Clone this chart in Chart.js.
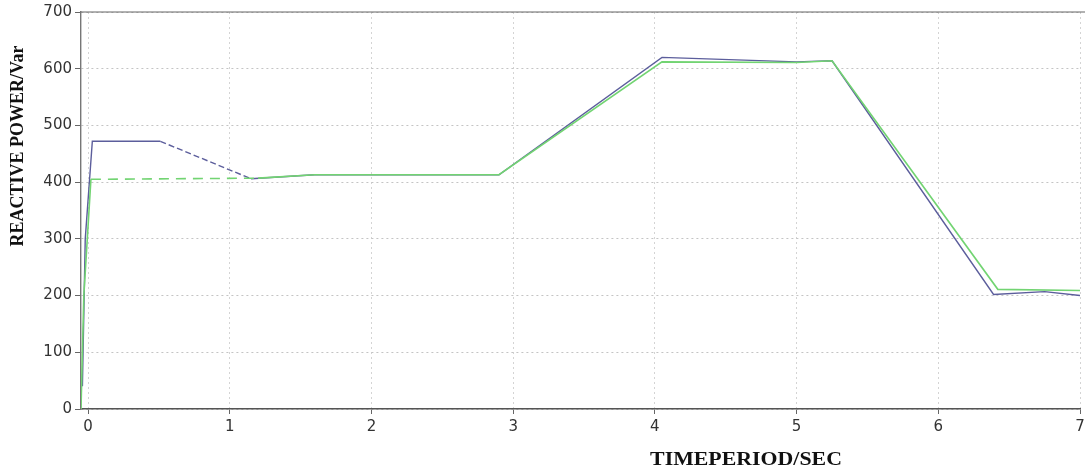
<!DOCTYPE html>
<html>
<head>
<meta charset="utf-8">
<script src="https://cdn.jsdelivr.net/npm/chart.js@4.4.1/dist/chart.umd.min.js"></script>
<style>
  html, body { margin: 0; padding: 0; background: #fff; overflow: hidden; }
  #wrap { width: 1100px; height: 470px; }
</style>
</head>
<body>
<div id="wrap"><canvas id="qChart" width="1100" height="470"></canvas></div>
<script>
  // values
  const blueTime = [-0.04, -0.02, 0.03, 0.51, 1.15, 1.6, 2.9, 4.05, 5.0, 5.25, 6.39, 6.75, 7.0];
  const blueVar  = [40, 300, 472, 472, 406, 413, 413, 620, 612, 614, 202, 207, 200];
  const greenTime = [-0.05, -0.03, 0.02, 1.2, 1.6, 2.9, 4.05, 5.0, 5.25, 6.42, 7.0];
  const greenVar  = [0, 200, 405, 407, 413, 413, 612, 611, 614, 211, 209];
  const yTicks = [0, 100, 200, 300, 400, 500, 600, 700];
  const xTicks = [0, 1, 2, 3, 4, 5, 6, 7];

  const toPoints = (xs, ys) => xs.map((x, i) => ({ x, y: ys[i] }));

  const frame = {
    id: "frame",
    afterDraw(chart) {
      const { ctx, chartArea } = chart;
      ctx.save();
      ctx.strokeStyle = "#666666";
      ctx.lineWidth = 1.2;
      ctx.beginPath();
      ctx.moveTo(chartArea.left, chartArea.top);
      ctx.lineTo(chartArea.right + 10, chartArea.top);
      ctx.stroke();
      ctx.fillStyle = "#111111";
      ctx.textAlign = "center";
      ctx.textBaseline = "middle";
      ctx.font = "bold 19px 'Liberation Serif', 'Times New Roman', serif";
      // x axis title, sits right of centre in the reference and looks stretched
      ctx.save();
      ctx.translate(746, 460);
      ctx.scale(1.15, 1);
      ctx.fillText("TIMEPERIOD/SEC", 0, 0);
      ctx.restore();
      // y axis title, sits above centre
      ctx.save();
      ctx.translate(18, 146);
      ctx.rotate(-Math.PI / 2);
      ctx.font = "bold 18px 'Liberation Serif', 'Times New Roman', serif";
      ctx.fillText("REACTIVE POWER/Var", 0, 0);
      ctx.restore();
      ctx.restore();
    },
  };

  const ctx = document.getElementById("qChart").getContext("2d");
  new Chart(ctx, {
    type: "scatter",
    data: {
      datasets: [
        {
          label: "Q ref",
          data: toPoints(greenTime, greenVar),
          showLine: true,
          borderColor: "#72d472",
          borderWidth: 1.6,
          pointRadius: 0,
          segment: {
            borderDash: (c) => (c.p1.parsed.x <= 1.2 && c.p0.parsed.x > 0 ? [10, 7] : undefined),
          },
        },
        {
          label: "Q",
          data: toPoints(blueTime, blueVar),
          showLine: true,
          borderColor: "#5c5e9c",
          borderWidth: 1.4,
          pointRadius: 0,
          segment: {
            borderDash: (c) => (c.p0.parsed.x >= 0.5 && c.p1.parsed.x <= 1.2 ? [6, 3] : undefined),
          },
        },
      ],
    },
    options: {
      responsive: false,
      animation: false,
      layout: { padding: { top: 10, right: 20, left: 0, bottom: 0 } },
      plugins: {
        legend: { display: false },
        tooltip: { enabled: false },
      },
      scales: {
        x: {
          type: "linear",
          min: -0.05,
          max: 7,
          afterFit: (s) => { s.height = 61; },
          afterBuildTicks: (s) => { s.ticks = xTicks.map((v) => ({ value: v })); },
          ticks: {
            color: "#333333",
            font: { size: 15, family: "'DejaVu Sans', sans-serif" },
            padding: 4,
            maxRotation: 0,
          },
          grid: { color: "#d4d4d4", lineWidth: 1, tickLength: 5, tickColor: "#666666" },
          border: { color: "#555555", width: 1.6, dash: [2, 3] },
        },
        y: {
          min: 0,
          max: 700,
          afterFit: (s) => { s.width = 81; },
          afterBuildTicks: (s) => { s.ticks = yTicks.map((v) => ({ value: v })); },
          ticks: {
            color: "#333333",
            font: { size: 15, family: "'DejaVu Sans', sans-serif" },
            padding: 3,
          },
          grid: { color: "#c4c4c4", lineWidth: 1, tickLength: 6, tickColor: "#666666" },
          border: { color: "#777777", width: 1.4, dash: [2, 3] },
        },
      },
    },
    plugins: [frame],
  });
</script>
</body>
</html>
